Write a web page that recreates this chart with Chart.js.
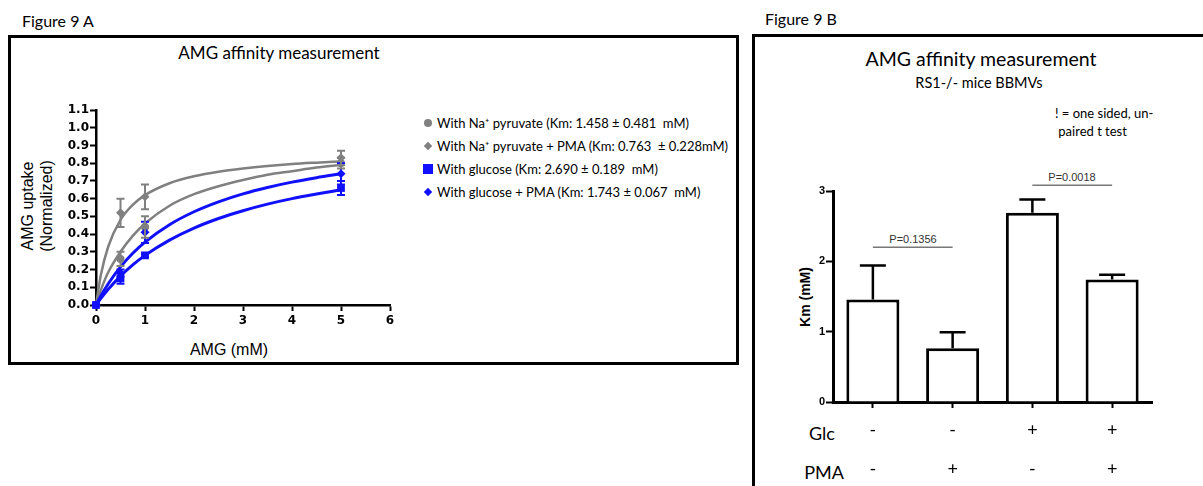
<!DOCTYPE html>
<html><head><meta charset="utf-8">
<script src="https://cdn.jsdelivr.net/npm/chart.js@4.4.1/dist/chart.umd.min.js"></script>
<style>
html,body{margin:0;padding:0;background:#fff;}
#page{position:relative;width:1203px;height:486px;overflow:hidden;background:#fff;font-family:Lato,'Open Sans',sans-serif;color:#000;}
.abs{position:absolute;white-space:nowrap;}
.c{transform:translate(-50%,-50%);}
.box{position:absolute;border:3px solid #000;box-sizing:border-box;}
canvas{position:absolute;}
.lg{position:absolute;left:421px;font-size:13px;white-space:nowrap;transform:translateY(-50%);}
.mk{display:inline-block;position:absolute;}
.lg span.t{position:absolute;left:16px;top:50%;transform:translateY(-50%);}
.arial{font-family:'Liberation Sans',Arial,sans-serif;}
</style></head>
<body><div id="page">
<div class="abs" style="left:22px;top:20px;font-size:16px;transform:translateY(-50%);">Figure 9 A</div>
<div class="abs" style="left:765px;top:18px;font-size:16px;transform:translateY(-50%);">Figure 9 B</div>
<div class="box" style="left:8px;top:35px;width:731px;height:330px;"></div>
<div class="box" style="left:752px;top:34px;width:470px;height:480px;"></div>

<div class="abs c" style="left:279px;top:52px;font-size:17px;">AMG affinity measurement</div>
<div class="abs c arial" style="left:37px;top:206px;font-size:16px;line-height:19px;text-align:center;transform:translate(-50%,-50%) rotate(-90deg);">AMG uptake<br>(Normalized)</div>
<div class="abs c arial" style="left:229px;top:350px;font-size:16px;">AMG (mM)</div>

<div class="lg" style="top:123px;"><span class="mk" style="left:3px;top:-4px;width:8px;height:8px;border-radius:50%;background:#808080;"></span><span class="t">With Na⁺ pyruvate (Km: 1.458 ± 0.481&nbsp; mM)</span></div>
<div class="lg" style="top:146px;"><span class="mk" style="left:4px;top:-3px;width:6px;height:6px;background:#808080;transform:rotate(45deg);"></span><span class="t">With Na⁺ pyruvate + PMA (Km: 0.763 &nbsp;± 0.228mM)</span></div>
<div class="lg" style="top:169px;"><span class="mk" style="left:2px;top:-5px;width:10px;height:10px;background:#1010ff;"></span><span class="t">With glucose (Km: 2.690 ± 0.189&nbsp; mM)</span></div>
<div class="lg" style="top:192px;"><span class="mk" style="left:4px;top:-3px;width:6px;height:6px;background:#1010ff;transform:rotate(45deg);"></span><span class="t">With glucose + PMA (Km: 1.743 ± 0.067&nbsp; mM)</span></div>

<div class="abs c" style="left:981px;top:58px;font-size:19.5px;">AMG affinity measurement</div>
<div class="abs c" style="left:979px;top:82px;font-size:14.5px;">RS1-/- mice BBMVs</div>
<div class="abs" style="left:1055px;top:104px;font-size:13px;line-height:18px;">! = one sided, un-<br>&nbsp;paired t test</div>
<div class="abs c arial" style="left:805px;top:297px;font-size:14px;font-weight:bold;transform:translate(-50%,-50%) rotate(-90deg);">Km (mM)</div>
<div class="abs c arial" style="left:913px;top:239px;font-size:11px;color:#333;">P=0.1356</div>
<div class="abs c arial" style="left:1072px;top:177px;font-size:11px;color:#333;">P=0.0018</div>
<div class="abs c" style="left:822px;top:433px;font-size:18px;">Glc</div>
<div class="abs c" style="left:824px;top:472px;font-size:18px;">PMA</div>

<canvas id="ca" width="420" height="320" style="left:11px;top:38px;"></canvas>
<canvas id="cb" width="448" height="449" style="left:755px;top:37px;"></canvas>
</div>
<script>
// ---------- Figure 9 A data ----------
const concA = [0, 0.5, 1, 5];
const pyrMean = [0, 0.26, 0.44, 0.80];
const pyrErr = [0, 0.04, 0.06, 0.03];
const pyrPmaMean = [0, 0.52, 0.61, 0.83];
const pyrPmaErr = [0, 0.08, 0.07, 0.04];
const glcMean = [0, 0.15, 0.28, 0.66];
const glcErr = [0, 0.03, 0.01, 0.04];
const glcPmaMean = [0, 0.18, 0.41, 0.74];
const glcPmaErr = [0, 0.02, 0.06, 0.06];

const fitX = [0, 0.1, 0.25, 0.5, 0.75, 1, 1.5, 2, 2.5, 3, 3.5, 4, 4.5, 5];
const pyrFit = [0, 0.085, 0.185, 0.30, 0.39, 0.46, 0.56, 0.625, 0.67, 0.705, 0.735, 0.755, 0.775, 0.79];
const pyrPmaFit = [0, 0.17, 0.33, 0.48, 0.565, 0.62, 0.687, 0.726, 0.752, 0.77, 0.784, 0.795, 0.803, 0.81];
const glcFit = [0, 0.038, 0.089, 0.163, 0.226, 0.28, 0.366, 0.434, 0.488, 0.532, 0.569, 0.60, 0.626, 0.65];
const glcPmaFit = [0, 0.052, 0.12, 0.215, 0.292, 0.355, 0.453, 0.526, 0.582, 0.627, 0.663, 0.693, 0.718, 0.74];

const xTicksA = [0, 1, 2, 3, 4, 5, 6];
const yTicksA = [0, 0.1, 0.2, 0.3, 0.4, 0.5, 0.6, 0.7, 0.8, 0.9, 1.0, 1.1];

// ---------- Figure 9 B data ----------
const glcRow = ['-', '-', '+', '+'];
const pmaRow = ['-', '+', '-', '+'];
const kmMean = [1.458, 0.763, 2.690, 1.743];
const kmErr = [0.481, 0.228, 0.189, 0.067];
const yTicksB = [0, 1, 2, 3];
const pPairs = [[0, 1], [2, 3]];
const pLevels = [2.2, 3.08];

const GREY = '#808080', BLUE = '#1010ff';
const pts = (xs, ys) => xs.map((x, i) => ({x, y: ys[i]}));

const errorBarPlugin = {
  id: 'errbars',
  afterDatasetsDraw(chart) {
    const ctx = chart.ctx, ys = chart.scales.y;
    chart.data.datasets.forEach((ds, di) => {
      const eb = ds.errorBars; if (!eb) return;
      const meta = chart.getDatasetMeta(di);
      ctx.save();
      ctx.strokeStyle = eb.color; ctx.lineWidth = eb.width;
      meta.data.forEach((el, i) => {
        const e = eb.values[i]; if (!e) return;
        const v = eb.means[i];
        const x = el.x;
        const yTop = ys.getPixelForValue(v + e);
        const yBot = eb.upOnly ? ys.getPixelForValue(v) : ys.getPixelForValue(v - e);
        ctx.beginPath();
        ctx.moveTo(x, yBot); ctx.lineTo(x, yTop);
        ctx.moveTo(x - eb.cap, yTop); ctx.lineTo(x + eb.cap, yTop);
        if (!eb.upOnly) { ctx.moveTo(x - eb.cap, yBot); ctx.lineTo(x + eb.cap, yBot); }
        ctx.stroke();
      });
      ctx.restore();
    });
  }
};

const sigPlugin = {
  id: 'sig',
  afterDraw(chart) {
    const ctx = chart.ctx, xs = chart.scales.x, ys = chart.scales.y;
    ctx.save();
    ctx.strokeStyle = '#777'; ctx.lineWidth = 1.5;
    pPairs.forEach((p, k) => {
      const y = ys.getPixelForValue(pLevels[k]);
      ctx.beginPath();
      ctx.moveTo(xs.getPixelForValue(p[0]), y);
      ctx.lineTo(xs.getPixelForValue(p[1]), y);
      ctx.stroke();
    });
    ctx.restore();
  }
};

const tickFont = {family: "'DejaVu Sans', 'Liberation Sans', Arial, sans-serif", size: 12, weight: 'bold'};

new Chart(document.getElementById('ca'), {
  type: 'scatter',
  data: {
    datasets: [
      {label: 'With glucose + PMA', data: pts(concA, glcPmaMean), pointStyle: 'rectRot', pointRadius: 4.5, backgroundColor: BLUE, borderColor: BLUE, borderWidth: 0, clip: false,
       errorBars: {values: glcPmaErr, means: glcPmaMean, color: BLUE, width: 2, cap: 4}},
      {label: 'With glucose', data: pts(concA, glcMean), pointStyle: 'rect', pointRadius: 5.5, backgroundColor: BLUE, borderColor: BLUE, borderWidth: 0, clip: false,
       errorBars: {values: glcErr, means: glcMean, color: BLUE, width: 2, cap: 4}},
      {label: 'With Na+ pyruvate + PMA', data: pts(concA, pyrPmaMean), pointStyle: 'rectRot', pointRadius: 4.5, backgroundColor: GREY, borderColor: GREY, borderWidth: 0, clip: false,
       errorBars: {values: pyrPmaErr, means: pyrPmaMean, color: GREY, width: 2, cap: 4}},
      {label: 'With Na+ pyruvate', data: pts(concA, pyrMean), pointStyle: 'circle', pointRadius: 4, backgroundColor: GREY, borderColor: GREY, borderWidth: 0, clip: false,
       errorBars: {values: pyrErr, means: pyrMean, color: GREY, width: 2, cap: 4}},
      {type: 'line', label: 'fit glc+PMA', data: pts(fitX, glcPmaFit), borderColor: BLUE, borderWidth: 3, pointRadius: 0, cubicInterpolationMode: 'monotone', fill: false, clip: false},
      {type: 'line', label: 'fit glc', data: pts(fitX, glcFit), borderColor: BLUE, borderWidth: 3, pointRadius: 0, cubicInterpolationMode: 'monotone', fill: false, clip: false},
      {type: 'line', label: 'fit pyr+PMA', data: pts(fitX, pyrPmaFit), borderColor: GREY, borderWidth: 2.5, pointRadius: 0, cubicInterpolationMode: 'monotone', fill: false, clip: false},
      {type: 'line', label: 'fit pyr', data: pts(fitX, pyrFit), borderColor: GREY, borderWidth: 2.5, pointRadius: 0, cubicInterpolationMode: 'monotone', fill: false, clip: false}
    ]
  },
  options: {
    responsive: false, animation: false, devicePixelRatio: 1,
    layout: {padding: {top: 72, right: 41, left: 0, bottom: 0}},
    plugins: {legend: {display: false}, tooltip: {enabled: false}},
    scales: {
      x: {type: 'linear', min: 0, max: 6,
          afterBuildTicks: s => { s.ticks = xTicksA.map(v => ({value: v})); },
          afterFit: s => { s.height = 53; },
          ticks: {font: tickFont, color: '#000', padding: 3, maxRotation: 0, callback: v => String(v)},
          grid: {drawOnChartArea: false, drawTicks: true, tickLength: 6, tickWidth: 2, tickColor: '#000'},
          border: {display: true, color: '#000', width: 2.5}},
      y: {type: 'linear', min: 0, max: 1.1,
          afterBuildTicks: s => { s.ticks = yTicksA.map(v => ({value: v})); },
          afterFit: s => { s.width = 85; },
          ticks: {font: tickFont, color: '#000', padding: 1, callback: v => Number(v).toFixed(1)},
          grid: {drawOnChartArea: false, drawTicks: true, tickLength: 6, tickWidth: 2, tickColor: '#000'},
          border: {display: true, color: '#000', width: 2.5}}
    }
  },
  plugins: [errorBarPlugin]
});

new Chart(document.getElementById('cb'), {
  type: 'bar',
  data: {
    labels: glcRow.map((g, i) => [g, pmaRow[i]]),
    datasets: [{
      label: 'Km', data: kmMean, backgroundColor: '#fff', borderColor: '#000', borderWidth: 3, borderSkipped: 'bottom',
      barPercentage: 0.665, categoryPercentage: 1,
      errorBars: {values: kmErr, means: kmMean, color: '#000', width: 2.5, cap: 13, upOnly: true}
    }]
  },
  options: {
    responsive: false, animation: false, devicePixelRatio: 1,
    layout: {padding: {top: 154, right: 51, left: 0, bottom: 0}},
    plugins: {legend: {display: false}, tooltip: {enabled: false}},
    scales: {
      x: {afterFit: s => { s.height = 84; },
          ticks: {font: {family: "Lato, 'Open Sans', sans-serif", size: 18, lineHeight: '39px'}, color: '#000', padding: 3, maxRotation: 0, autoSkip: false},
          grid: {offset: false, drawOnChartArea: false, drawTicks: true, tickLength: 6, tickWidth: 2, tickColor: '#000'},
          border: {display: true, color: '#000', width: 3}},
      y: {min: 0, max: 3,
          afterBuildTicks: s => { s.ticks = yTicksB.map(v => ({value: v})); },
          afterFit: s => { s.width = 78; },
          ticks: {font: {family: "'Liberation Sans', Arial, sans-serif", size: 11, weight: 'bold'}, color: '#000', padding: 1},
          grid: {drawOnChartArea: false, drawTicks: true, tickLength: 7, tickWidth: 2, tickColor: '#000'},
          border: {display: true, color: '#000', width: 3}}
    }
  },
  plugins: [errorBarPlugin, sigPlugin]
});
</script>
</body></html>
